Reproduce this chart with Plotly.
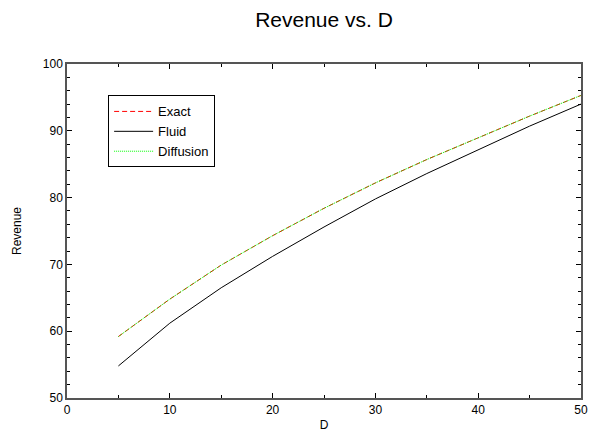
import plotly.graph_objects as go

D = [5, 10, 15, 20, 25, 30, 35, 40, 45, 50]
exact = [59.2, 64.8, 69.9, 74.3, 78.4, 82.2, 85.7, 89.0, 92.2, 95.3]
fluid = [54.8, 61.2, 66.5, 71.2, 75.6, 79.8, 83.6, 87.2, 90.7, 94.0]
diffusion = [59.2, 64.8, 69.9, 74.3, 78.4, 82.2, 85.7, 89.0, 92.2, 95.3]

fig = go.Figure()
fig.add_trace(go.Scatter(x=D, y=exact, mode="lines", name="Exact",
                         line=dict(color="#ff0000", width=1, dash="5px,3px")))
fig.add_trace(go.Scatter(x=D, y=fluid, mode="lines", name="Fluid",
                         line=dict(color="#000000", width=1)))
fig.add_trace(go.Scatter(x=D, y=diffusion, mode="lines", name="Diffusion",
                         line=dict(color="#00ff00", width=1, dash="1px,1px")))

axis_common = dict(showgrid=False, zeroline=False, showline=True, linecolor="#555555",
                   linewidth=1.5, mirror="ticks", ticks="inside", ticklen=5,
                   tickcolor="#000000", tickfont=dict(size=12, color="#000"),
                   automargin=False)

fig.update_layout(
    width=589, height=435,
    margin=dict(l=67, r=8, t=64, b=37),
    paper_bgcolor="white", plot_bgcolor="white",
    font=dict(family="Liberation Sans, Arial, sans-serif", color="#000"),
    title=dict(text="Revenue vs. D", x=0.5, xref="paper", xanchor="center",
               y=0.954, yanchor="middle",
               font=dict(size=21, color="#000")),
    xaxis=dict(range=[0, 50], dtick=10, title=dict(text="D", font=dict(size=12), standoff=4),
               minor=dict(dtick=5, ticks="inside", ticklen=3, tickcolor="#000"),
               **axis_common),
    yaxis=dict(range=[50, 100], dtick=10, title=dict(text="Revenue", font=dict(size=12), standoff=19),
               minor=dict(dtick=2, ticks="inside", ticklen=3, tickcolor="#000"),
               **axis_common),
    legend=dict(x=0.08, y=0.798, xanchor="left", yanchor="middle",
                bordercolor="#000", borderwidth=1, bgcolor="white",
                font=dict(size=13), tracegroupgap=0, itemwidth=39),
    showlegend=True,
)

fig.write_html("out.html", config={"displayModeBar": False},
               post_script="document.body.style.margin='0';document.body.style.overflow='hidden';")
